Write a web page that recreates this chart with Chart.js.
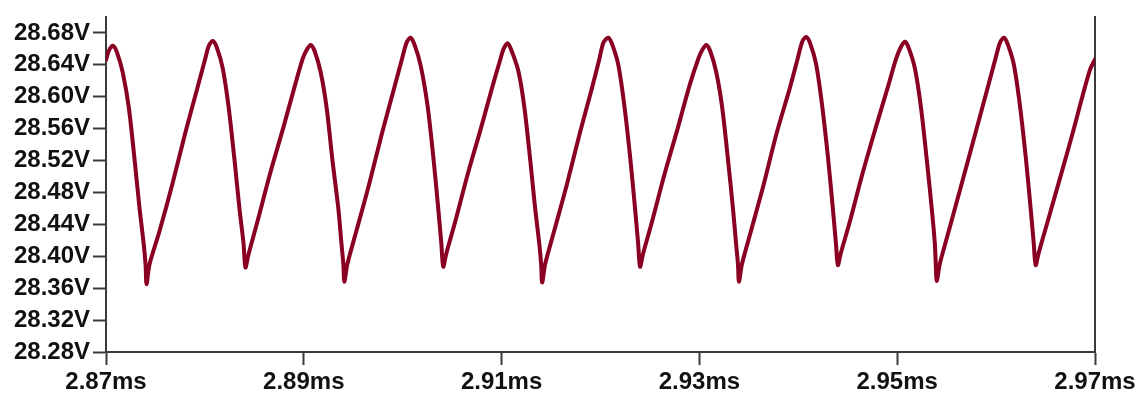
<!DOCTYPE html>
<html>
<head>
<meta charset="utf-8">
<title>Waveform</title>
<script src="https://cdn.jsdelivr.net/npm/chart.js@4.4.1/dist/chart.umd.min.js"></script>
<style>
    html, body {
        margin: 0;
        padding: 0;
        background: #ffffff;
    }
    #wrap {
        width: 1143px;
        height: 398px;
    }
</style>
</head>
<body>
<div id="wrap"><canvas id="waveChart" width="1143" height="398"></canvas></div>
<script>
// time in microseconds
const timeUs = [
    2870.0, 2870.3, 2870.7, 2871.1, 2871.7, 2872.3, 2872.9, 2873.4, 2873.8, 2874.0, 2874.1,
    2874.4, 2875.4, 2876.7, 2878.0, 2879.2, 2880.0, 2880.4, 2880.8,
    2881.2, 2881.8, 2882.4, 2883.0, 2883.5, 2883.9, 2884.1,
    2884.4, 2885.3, 2886.6, 2887.9, 2889.1, 2889.9, 2890.3, 2890.7,
    2891.1, 2891.7, 2892.3, 2892.9, 2893.5, 2893.8, 2894.0, 2894.1,
    2894.4, 2895.3, 2896.6, 2897.9, 2899.1, 2899.9, 2900.4, 2900.8,
    2901.2, 2901.8, 2902.5, 2903.1, 2903.6, 2903.9, 2904.1,
    2904.4, 2905.3, 2906.6, 2907.9, 2909.1, 2909.9, 2910.2, 2910.6,
    2911.0, 2911.7, 2912.3, 2912.9, 2913.4, 2913.8, 2914.0, 2914.1,
    2914.4, 2915.3, 2916.6, 2917.9, 2919.1, 2919.9, 2920.3, 2920.8,
    2921.2, 2921.8, 2922.4, 2923.0, 2923.5, 2923.8, 2924.0,
    2924.3, 2925.2, 2926.5, 2927.8, 2929.0, 2929.9, 2930.3, 2930.7,
    2931.1, 2931.7, 2932.3, 2932.9, 2933.4, 2933.7, 2933.9, 2934.0,
    2934.3, 2935.2, 2936.5, 2937.8, 2939.1, 2939.9, 2940.4, 2940.8,
    2941.2, 2941.8, 2942.4, 2943.0, 2943.5, 2943.8, 2944.0,
    2944.3, 2945.2, 2946.5, 2947.8, 2949.1, 2949.9, 2950.4, 2950.8,
    2951.2, 2951.8, 2952.4, 2953.0, 2953.5, 2953.8, 2953.9, 2954.0,
    2954.3, 2955.2, 2956.5, 2957.9, 2959.1, 2959.9, 2960.4, 2960.8,
    2961.2, 2961.8, 2962.4, 2963.0, 2963.5, 2963.8, 2964.0,
    2964.3, 2965.2, 2966.6, 2967.8, 2968.5, 2969.5, 2970.0,
];

const voltage = [
    28.646, 28.658, 28.664, 28.656, 28.630, 28.587, 28.520, 28.459, 28.417, 28.390, 28.365,
    28.390, 28.431, 28.490, 28.554, 28.609, 28.646, 28.664, 28.670,
    28.662, 28.636, 28.587, 28.520, 28.459, 28.417, 28.386,
    28.402, 28.443, 28.504, 28.560, 28.614, 28.648, 28.659, 28.665,
    28.657, 28.631, 28.587, 28.520, 28.459, 28.417, 28.390, 28.368,
    28.390, 28.431, 28.490, 28.554, 28.609, 28.646, 28.668, 28.674,
    28.665, 28.640, 28.590, 28.524, 28.459, 28.417, 28.387,
    28.403, 28.443, 28.504, 28.560, 28.614, 28.648, 28.660, 28.667,
    28.658, 28.632, 28.587, 28.520, 28.459, 28.417, 28.390, 28.367,
    28.390, 28.431, 28.490, 28.554, 28.609, 28.648, 28.668, 28.674,
    28.665, 28.640, 28.590, 28.524, 28.459, 28.417, 28.387,
    28.403, 28.443, 28.504, 28.560, 28.614, 28.648, 28.659, 28.665,
    28.657, 28.631, 28.587, 28.520, 28.459, 28.417, 28.390, 28.368,
    28.390, 28.431, 28.490, 28.554, 28.609, 28.646, 28.669, 28.675,
    28.667, 28.641, 28.590, 28.524, 28.459, 28.417, 28.389,
    28.404, 28.443, 28.504, 28.560, 28.614, 28.648, 28.663, 28.669,
    28.660, 28.635, 28.587, 28.520, 28.459, 28.417, 28.390, 28.369,
    28.390, 28.431, 28.490, 28.554, 28.609, 28.646, 28.668, 28.674,
    28.665, 28.640, 28.590, 28.524, 28.459, 28.417, 28.389,
    28.404, 28.443, 28.504, 28.557, 28.590, 28.634, 28.647,
];

const xTickValues = [2870, 2890, 2910, 2930, 2950, 2970];
const yTickValues = [28.28, 28.32, 28.36, 28.40, 28.44, 28.48, 28.52, 28.56, 28.60, 28.64, 28.68];

const axisColor = '#3a3a3a';
const labelFont = { family: "'Liberation Sans', Arial, sans-serif", size: 24, weight: 'bold' };

function buildPoints() {
    return timeUs.map((t, i) => ({ x: t, y: voltage[i] }));
}

function drawWaveChart() {
    const ctx = document.getElementById('waveChart').getContext('2d');

    new Chart(ctx, {
        type: 'line',
        data: {
            datasets: [
                {
                    data: buildPoints(),
                    borderColor: '#8a0022',
                    borderWidth: 4,
                    borderJoinStyle: 'round',
                    borderCapStyle: 'round',
                    pointRadius: 0,
                    tension: 0.3,
                    fill: false,
                },
            ],
        },
        options: {
            responsive: false,
            animation: false,
            devicePixelRatio: 1,
            layout: {
                padding: { top: 8, left: 0, right: 0, bottom: 0 },
            },
            plugins: {
                legend: { display: false },
                tooltip: { enabled: false },
            },
            scales: {
                x: {
                    type: 'linear',
                    min: 2870,
                    max: 2970,
                    afterBuildTicks: (axis) => {
                        axis.ticks = xTickValues.map((v) => ({ value: v }));
                    },
                    afterFit: (axis) => {
                        axis.height = 46;
                    },
                    ticks: {
                        autoSkip: false,
                        maxRotation: 0,
                        padding: 3,
                        color: '#111',
                        font: labelFont,
                        callback: (v) => `${(v / 1000).toFixed(2)}ms`,
                    },
                    grid: {
                        drawOnChartArea: false,
                        drawTicks: true,
                        tickLength: 13,
                        tickWidth: 2,
                        tickColor: axisColor,
                    },
                    border: { display: true, color: axisColor, width: 2 },
                },
                y: {
                    type: 'linear',
                    position: 'left',
                    min: 28.28,
                    max: 28.6995,
                    afterBuildTicks: (axis) => {
                        axis.ticks = yTickValues.map((v) => ({ value: v }));
                    },
                    afterFit: (axis) => {
                        axis.width = 106;
                    },
                    ticks: {
                        autoSkip: false,
                        padding: 3,
                        color: '#111',
                        font: labelFont,
                        callback: (v) => `${v.toFixed(2)}V`,
                    },
                    grid: {
                        drawOnChartArea: false,
                        drawTicks: true,
                        tickLength: 13,
                        tickWidth: 2,
                        tickColor: axisColor,
                    },
                    border: { display: true, color: axisColor, width: 2 },
                },
                yRight: {
                    type: 'linear',
                    position: 'right',
                    min: 28.28,
                    max: 28.6995,
                    afterFit: (axis) => {
                        axis.width = 48;
                    },
                    ticks: { display: false },
                    grid: { drawOnChartArea: false, drawTicks: false },
                    border: { display: true, color: axisColor, width: 2 },
                },
            },
        },
    });
}

document.addEventListener('DOMContentLoaded', () => {
    drawWaveChart();
});
</script>
</body>
</html>
